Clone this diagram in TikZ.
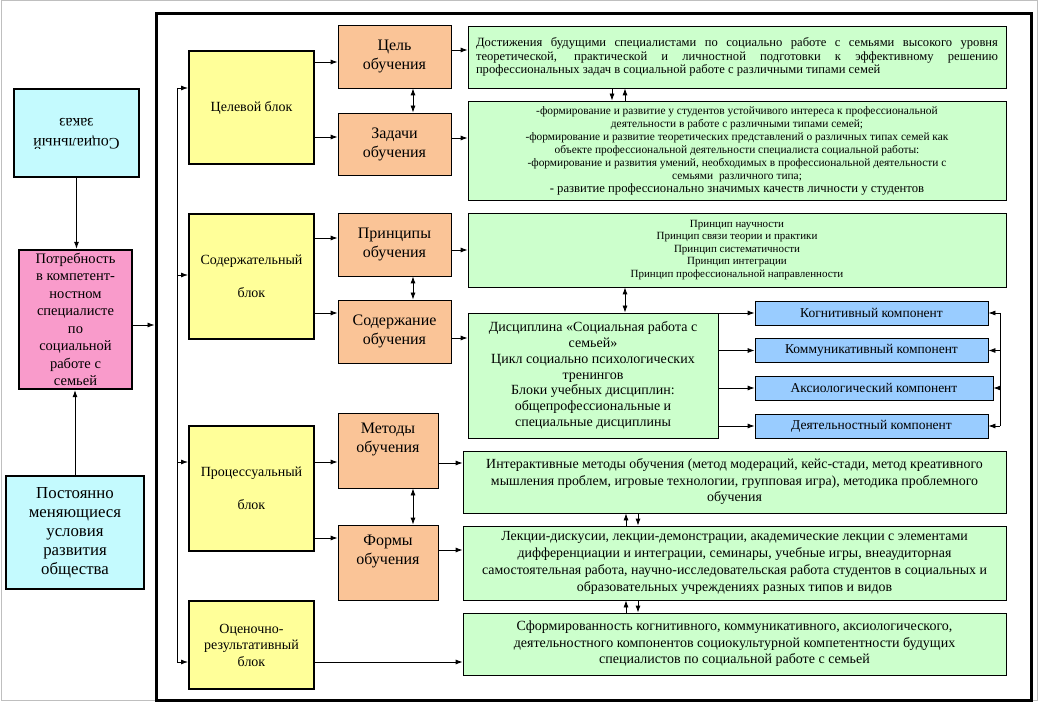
\documentclass[tikz,border=0pt]{standalone}
\usepackage{fontspec}
\setmainfont{Liberation Serif}
\usepackage{graphicx}
\usetikzlibrary{arrows.meta}
\definecolor{cyanfill}{HTML}{C4FAFE}
\definecolor{pinkfill}{HTML}{F99BCB}
\definecolor{yelfill}{HTML}{FFFF99}
\definecolor{orfill}{HTML}{FAC497}
\definecolor{grfill}{HTML}{CCFFCC}
\definecolor{blfill}{HTML}{99CCFF}
\newcommand{\fsz}[2]{\fontsize{#1}{#2}\selectfont}
\begin{document}
\begin{tikzpicture}[x=1pt,y=-1pt,
    arr/.style={-{Latex[length=7pt,width=5pt]},line width=.8pt},
    dbl/.style={{Latex[length=7pt,width=5pt]}-{Latex[length=7pt,width=5pt]},line width=.8pt},
    outerbox/.style={draw,line width=2.4pt,inner sep=0pt,align=center},
    yblock/.style={draw,line width=2pt,fill=yelfill,inner sep=0pt,align=center,minimum width=125pt,font=\fsz{14}{16.5}},
    obox/.style={draw,line width=.8pt,fill=orfill,inner sep=0pt,align=center,font=\fsz{16}{19}},
    gbox/.style={draw,line width=.8pt,fill=grfill,inner sep=0pt,align=center},
    bbox/.style={draw,line width=.8pt,fill=blfill,inner sep=0pt,minimum height=24pt,font=\fsz{13.5}{14}}]
    \useasboundingbox (0,0) rectangle (1039,703);
    \draw [gray!50,line width=1pt] (1,1) rectangle (1037,700);

    % left column
    \node [outerbox,fill=cyanfill,minimum width=125pt,minimum height=88pt,font=\fsz{16}{20}] (zakaz) at (76.5,133)
        {\rotatebox{180}{\begin{tabular}{@{}c@{}}Социальный\\заказ\end{tabular}}};
    \node [outerbox,fill=pinkfill,minimum width=113pt,minimum height=139pt,font=\fsz{14.5}{17.5}] (potreb) at (75.5,319.5)
        {Потребность\\в компетент-\\ностном\\специалисте\\по\\социальной\\работе с\\семьей};
    \node [outerbox,fill=cyanfill,minimum width=138pt,minimum height=113pt,font=\fsz{16.8}{19}] (usl) at (75,532.5)
        {Постоянно\\меняющиеся\\условия\\развития\\общества};
    \node [draw,line width=3pt,inner sep=0pt,minimum width=875pt,minimum height=686pt] (frame) at (593.5,357) {};
    \draw [arr] (zakaz.south) -- (zakaz.south |- potreb.north);
    \draw [arr] (usl.north) -- (usl.north |- potreb.south);
    \draw [arr] ([yshift=-5.5pt]potreb.east) -- ([yshift=-5.5pt]potreb.east -| frame.west);

    % blocks
    \node [yblock,minimum height=113pt] (ycel) at (251.5,107.5) {Целевой блок};
    \node [yblock,minimum height=125pt] (ysod) at (251.5,276.5) {Содержательный\\[16pt]блок};
    \node [yblock,minimum height=125pt] (yproc) at (251.5,488.5) {Процессуальный\\[16pt]блок};
    \node [yblock,minimum height=88pt] (yocen) at (251.5,645) {Оценочно-\\результативный\\блок};
    \coordinate (bus1) at (177,88);
    \coordinate (bus2) at (177,275);
    \coordinate (bus3) at (177,462);
    \coordinate (bus4) at (177,662);
    \draw [line width=.8pt] (bus1) -- (bus4);
    \foreach \b/\n in {bus1/ycel,bus2/ysod,bus3/yproc,bus4/yocen}
        \draw [arr] (\b) -- (\b -| \n.west);

    % obuchenie
    \node [obox,minimum width=113pt,minimum height=63pt] (ocel) at (394.5,56.5) {Цель\\обучения};
    \node [obox,minimum width=113pt,minimum height=62pt] (ozad) at (394.5,144) {Задачи\\обучения};
    \node [obox,minimum width=113pt,minimum height=63pt] (oprin) at (394.5,244.5) {Принципы\\обучения};
    \node [obox,minimum width=113pt,minimum height=63pt] (osod) at (394.5,331.5) {Содержание\\обучения};
    \node [obox,minimum width=100pt,minimum height=75pt] (ometod) at (388,450.5) {Методы\\обучения\\[7pt]\mbox{}};
    \node [obox,minimum width=100pt,minimum height=75pt] (oform) at (388,562.5) {Формы\\обучения\\[7pt]\mbox{}};
    \draw [arr] ([yshift=-5.5pt]ocel.west -| ycel.east) -- ([yshift=-5.5pt]ocel.west);
    \draw [arr] ([yshift=7pt]ozad.west -| ycel.east) -- ([yshift=7pt]ozad.west);
    \draw [arr] ([yshift=6.5pt]oprin.west -| ysod.east) -- ([yshift=6.5pt]oprin.west);
    \draw [arr] ([yshift=18.5pt]osod.west -| ysod.east) -- ([yshift=18.5pt]osod.west);
    \draw [arr] ([yshift=-11.5pt]ometod.west -| yproc.east) -- ([yshift=-11.5pt]ometod.west);
    \draw [arr] ([yshift=24.5pt]oform.west -| yproc.east) -- ([yshift=24.5pt]oform.west);
    \draw [dbl] ([xshift=18.5pt]ocel.south) -- ([xshift=18.5pt]ozad.north);
    \draw [dbl] ([xshift=18.5pt]oprin.south) -- ([xshift=18.5pt]osod.north);
    \draw [dbl] ([xshift=25pt]ometod.south) -- ([xshift=25pt]oform.north);

    % content boxes
    \node [gbox,minimum width=538pt,minimum height=62pt,text width=522pt,align=justify,font=\fsz{12.6}{13.5}] (gcel) at (737,57)
        {Достижения будущими специалистами по социально работе с семьями высокого уровня\linebreak
         теоретической, практической и личностной подготовки к эффективному решению\linebreak
         профессиональных задач в социальной работе с различными типами семей};
    \node [gbox,minimum width=538pt,minimum height=99pt,font=\fsz{11.4}{13}] (gzad) at (737,150.5)
        {-формирование и развитие у студентов устойчивого интереса к профессиональной\\
         деятельности в работе с различными типами семей;\\
         -формирование и развитие теоретических представлений о различных типах семей как\\
         объекте профессиональной деятельности специалиста социальной работы:\\
         -формирование и развития умений, необходимых в профессиональной деятельности с\\
         семьями\ \ различного типа;\\
         {\fsz{12.7}{13}- развитие профессионально значимых качеств личности у студентов}};
    \node [gbox,minimum width=538pt,minimum height=74pt,font=\fsz{11}{12.5}] (gprin) at (737,250)
        {Принцип научности\\Принцип связи теории и практики\\Принцип систематичности\\Принцип интеграции\\Принцип профессиональной направленности};
    \node [gbox,minimum width=250pt,minimum height=125pt,font=\fsz{14}{15.8}] (gdisc) at (593,375.5)
        {Дисциплина «Социальная работа с\\семьей»\\Цикл социально психологических\\тренингов\\Блоки учебных дисциплин:\\общепрофессиональные и\\специальные дисциплины};
    \node [gbox,minimum width=543pt,minimum height=62pt,font=\fsz{13.9}{16.5}] (gmet) at (734.5,482)
        {Интерактивные методы обучения (метод модераций, кейс-стади, метод креативного\\
         мышления проблем, игровые технологии, групповая игра), методика проблемного\\обучения};
    \node [gbox,minimum width=543pt,minimum height=74pt,font=\fsz{13.9}{17}] (gform) at (734.5,563)
        {Лекции-дискусии, лекции-демонстрации, академические лекции с элементами\\
         дифференциации и интеграции, семинары, учебные игры, внеаудиторная\\
         самостоятельная работа, научно-исследовательская работа студентов в социальных и\\
         образовательных учреждениях разных типов и видов};
    \node [gbox,minimum width=543pt,minimum height=62pt,font=\fsz{14}{16.5}] (grez) at (734.5,644)
        {Сформированность когнитивного, коммуникативного, аксиологического,\\
         деятельностного компонентов социокультурной компетентности будущих\\
         специалистов по социальной работе с семьей};
    \draw [arr] ([yshift=6.5pt]ocel.east) -- ([yshift=6.5pt]ocel.east -| gcel.west);
    \draw [arr] ([yshift=6pt]ozad.east) -- ([yshift=6pt]ozad.east -| gzad.west);
    \draw [arr] ([yshift=-5.5pt]oprin.east) -- ([yshift=-5.5pt]oprin.east -| gprin.west);
    \draw [arr] ([yshift=-6.5pt]osod.east) -- ([yshift=-6.5pt]osod.east -| gdisc.west);
    \draw [arr] ([yshift=-12.5pt]ometod.east) -- ([yshift=-12.5pt]ometod.east -| gmet.west);
    \draw [arr] ([yshift=12.5pt]oform.east) -- ([yshift=12.5pt]oform.east -| gform.west);
    \draw [arr] ([yshift=-17pt]yocen.east) -- ([yshift=-17pt]yocen.east -| grez.west);
    \draw [arr] ([xshift=-125pt]gcel.south) -- ([xshift=-125pt]gzad.north);
    \draw [arr] ([xshift=-112pt]gzad.north) -- ([xshift=-112pt]gcel.south);
    \draw [dbl] ([xshift=-112pt]gprin.south) -- ([xshift=-112pt]gprin.south |- gdisc.north);
    \draw [arr] ([xshift=-108.5pt]gform.north) -- ([xshift=-108.5pt]gmet.south);
    \draw [arr] ([xshift=-96.5pt]gmet.south) -- ([xshift=-96.5pt]gform.north);
    \draw [arr] ([xshift=-108.5pt]grez.north) -- ([xshift=-108.5pt]gform.south);
    \draw [arr] ([xshift=-96.5pt]gform.south) -- ([xshift=-96.5pt]grez.north);

    % components
    \node [bbox,minimum width=233pt] (kogn) at (871.5,313) {Когнитивный компонент};
    \node [bbox,minimum width=233pt] (komm) at (871.5,350.5) {Коммуникативный компонент};
    \node [bbox,minimum width=238pt] (aks) at (874,388) {Аксиологический компонент};
    \node [bbox,minimum width=233pt] (deyat) at (871.5,426) {Деятельностный компонент};
    \coordinate (brtop) at (1000,313);
    \coordinate (brbot) at (1000,426);
    \draw [line width=.8pt] (brtop) -- (brbot);
    \foreach \n in {kogn,komm,aks,deyat} {
        \draw [arr] (\n.west -| gdisc.east) -- (\n.west);
        \draw [arr] (\n.east -| brtop) -- (\n.east);
    }
\end{tikzpicture}
\end{document}
